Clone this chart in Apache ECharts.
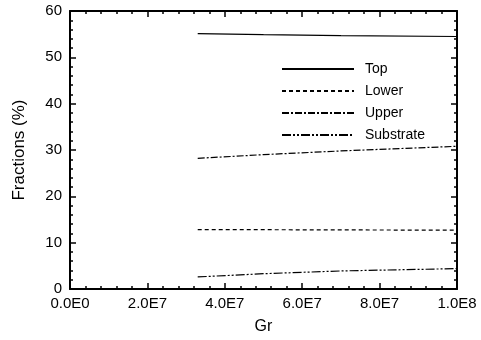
<!DOCTYPE html>
<html><head><meta charset="utf-8">
<script src="https://cdn.jsdelivr.net/npm/echarts@6/dist/echarts.min.js"></script>
<style>html,body{margin:0;padding:0;background:#fff}#c{width:481px;height:340px}</style>
</head><body><div id="c"></div>
<script>
var grValues = [3.3e7, 5.0e7, 7.0e7, 1.0e8];
var topFrac = [55.1, 54.9, 54.7, 54.5];
var lowerFrac = [12.8, 12.8, 12.75, 12.7];
var upperFrac = [28.2, 29.0, 29.8, 30.8];
var substrateFrac = [2.6, 3.3, 3.9, 4.4];
var xTickLabels = ['0.0E0', '2.0E7', '4.0E7', '6.0E7', '8.0E7', '1.0E8'];
var seriesNames = ['Top', 'Lower', 'Upper', 'Substrate'];

function pairs(ys){ return grValues.map(function(x,i){ return [x, ys[i]]; }); }
var font = 'Liberation Sans, Arial, sans-serif';
var chart = echarts.init(document.getElementById('c'), null, {renderer:'canvas'});
function axisLine(){ return {show:true, onZero:false, lineStyle:{color:'#000', width:2}}; }
function tick(){ return {show:true, inside:true, length:6, lineStyle:{color:'#000', width:1.5}}; }
function minor(){ return {show:true, splitNumber:5, length:3, lineStyle:{color:'#000', width:1.5}}; }
function mk(name, data, type){
  return {name:name, type:'line', data:pairs(data), symbol:'none', xAxisIndex:0, yAxisIndex:0,
    lineStyle:{color:'#000', width:1.2, type:type}, itemStyle:{color:'#000'}};
}
chart.setOption({
  animation:false,
  backgroundColor:'#fff',
  grid:{left:70, right:24, top:11, bottom:48, containLabel:false},
  legend:{orient:'vertical', left:276, top:57, itemWidth:72, itemHeight:14, itemGap:8,
    itemStyle:{opacity:0},
    data:seriesNames.map(function(n){return {name:n};}),
    textStyle:{fontFamily:font, fontSize:14, color:'#000', padding:[0,0,0,6]}},
  xAxis:[{type:'value', min:0, max:1e8, interval:2e7, position:'bottom',
    name:'Gr', nameLocation:'middle', nameGap:30,
    nameTextStyle:{fontFamily:font, fontSize:16, color:'#000'},
    axisLine:axisLine(), axisTick:tick(), minorTick:minor(), splitLine:{show:false},
    axisLabel:{fontFamily:font, fontSize:15, color:'#000', margin:7,
      formatter:function(v){ return xTickLabels[Math.round(v/2e7)]; }}},
    {type:'value', show:true, min:0, max:1e8, interval:2e7, position:'top',
    axisLine:axisLine(), axisTick:tick(), minorTick:minor(), splitLine:{show:false}, axisLabel:{show:false}}],
  yAxis:[{type:'value', min:0, max:60, interval:10, position:'left',
    name:'Fractions (%)', nameLocation:'middle', nameGap:42,
    nameTextStyle:{fontFamily:font, fontSize:17, color:'#000'},
    axisLine:axisLine(), axisTick:tick(), minorTick:minor(), splitLine:{show:false},
    axisLabel:{fontFamily:font, fontSize:15, color:'#000', margin:8}},
    {type:'value', show:true, min:0, max:60, interval:10, position:'right',
    axisLine:axisLine(), axisTick:tick(), minorTick:minor(), splitLine:{show:false}, axisLabel:{show:false}}],
  series:[
    mk('Top', topFrac, 'solid'),
    mk('Lower', lowerFrac, [4,3]),
    mk('Upper', upperFrac, [7,2,2,2]),
    mk('Substrate', substrateFrac, [9,2,2,2,2,2]),
    {type:'line', data:[], xAxisIndex:1, yAxisIndex:1, silent:true}
  ]
});
</script></body></html>
